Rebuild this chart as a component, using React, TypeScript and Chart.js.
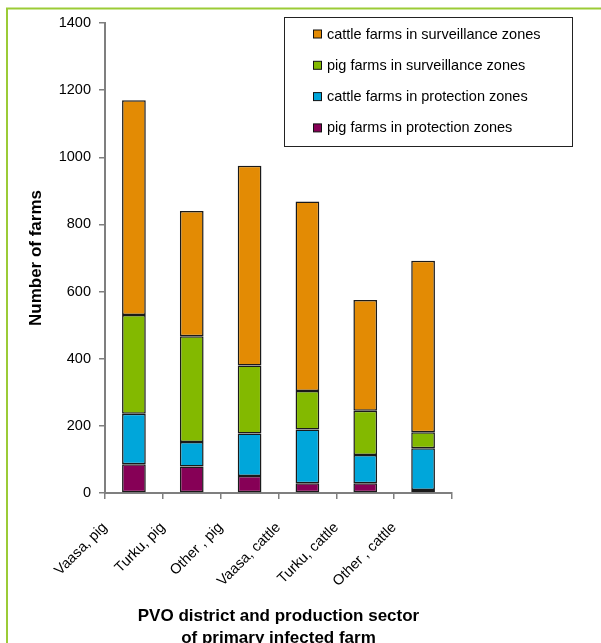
import { useEffect, useRef } from "react";
import { Chart, registerables } from "chart.js";

Chart.register(...registerables);

// Categories: PVO district and production sector of the primary infected farm
const categories = [
  "Vaasa, pig",
  "Turku, pig",
  "Other , pig",
  "Vaasa, cattle",
  "Turku, cattle",
  "Other , cattle",
];

// Number of farms per zone type (stacked from the bottom up)
const pigProtection = [86, 79, 51, 29, 29, 9];
const cattleProtection = [150, 73, 126, 160, 84, 124];
const pigSurveillance = [294, 315, 203, 115, 132, 48];
const cattleSurveillance = [640, 373, 595, 564, 330, 511];

const yMin = 0;
const yMax = 1400;
const yStep = 200;

const FONT = "'Liberation Sans', Arial, Helvetica, sans-serif";
const AXIS_GREY = "#7f7f7f";

// Light green frame around the whole chart plus a white page background
const framePlugin = {
  id: "frame",
  beforeDraw(chart: any) {
    const { ctx, width, height } = chart;
    ctx.save();
    ctx.fillStyle = "#ffffff";
    ctx.fillRect(0, 0, width, height);
    ctx.strokeStyle = "#9bcb36";
    ctx.lineWidth = 2;
    ctx.strokeRect(7, 8.5, width + 40, height + 40);
    ctx.restore();
  },
};

// Boxed legend in the upper right, listed top series first
const boxLegendPlugin = {
  id: "boxLegend",
  afterDraw(chart: any) {
    const { ctx } = chart;
    const x = 284.5;
    const y = 17.5;
    const w = 288;
    const h = 129;
    ctx.save();
    ctx.fillStyle = "#ffffff";
    ctx.fillRect(x, y, w, h);
    ctx.strokeStyle = "#222222";
    ctx.lineWidth = 1;
    ctx.strokeRect(x, y, w, h);
    const items = chart.data.datasets
      .map((ds: any) => ({ label: ds.label, color: ds.backgroundColor }))
      .reverse();
    ctx.font = `14.5px ${FONT}`;
    ctx.textBaseline = "middle";
    ctx.textAlign = "left";
    items.forEach((it: any, i: number) => {
      const cy = 34 + i * 31.3;
      ctx.fillStyle = it.color;
      ctx.fillRect(313.5, cy - 4, 8, 8);
      ctx.strokeStyle = "#111111";
      ctx.strokeRect(313.5, cy - 4, 8, 8);
      ctx.fillStyle = "#000000";
      ctx.fillText(it.label, 327, cy + 0.5);
    });
    ctx.restore();
  },
};

export default function App() {
  const canvasRef = useRef<HTMLCanvasElement | null>(null);

  useEffect(() => {
    if (!canvasRef.current) return;
    const barStyle = {
      borderColor: "#1a1a1a",
      borderWidth: 1.5,
      borderSkipped: false,
      barPercentage: 0.41,
      categoryPercentage: 1,
    };
    const chart = new Chart(canvasRef.current, {
      type: "bar",
      data: {
        labels: categories,
        datasets: [
          { label: "pig farms in protection zones", data: pigProtection, backgroundColor: "#860056", ...barStyle },
          { label: "cattle farms in protection zones", data: cattleProtection, backgroundColor: "#00a6da", ...barStyle },
          { label: "pig farms in surveillance zones", data: pigSurveillance, backgroundColor: "#83b900", ...barStyle },
          { label: "cattle farms in surveillance zones", data: cattleSurveillance, backgroundColor: "#e38b04", ...barStyle },
        ],
      },
      options: {
        animation: false,
        responsive: false,
        maintainAspectRatio: false,
        devicePixelRatio: 1,
        layout: { padding: { top: 23, right: 149, left: 0, bottom: 0 } },
        plugins: {
          legend: { display: false },
          tooltip: { enabled: false },
        },
        scales: {
          x: {
            stacked: true,
            offset: true,
            grid: {
              display: true,
              offset: true,
              drawOnChartArea: false,
              drawTicks: true,
              tickLength: 6,
              color: AXIS_GREY,
              lineWidth: 1.5,
            },
            border: { display: true, color: AXIS_GREY, width: 2 },
            ticks: {
              color: "#000000",
              font: { family: FONT, size: 14.5 },
              minRotation: 45,
              maxRotation: 45,
              autoSkip: false,
              labelOffset: -29,
              padding: 20,
            },
            title: {
              display: true,
              text: ["PVO district and production sector", "of primary infected farm"],
              color: "#000000",
              font: { family: FONT, size: 17, weight: "bold", lineHeight: 1.3 },
              padding: { top: 0, bottom: 11 },
            },
            afterFit(scale: any) {
              scale.height = 167;
            },
          },
          y: {
            stacked: true,
            min: yMin,
            max: yMax,
            grid: {
              display: true,
              drawOnChartArea: false,
              drawTicks: true,
              tickLength: 6,
              color: AXIS_GREY,
              lineWidth: 1.5,
            },
            border: { display: true, color: AXIS_GREY, width: 2 },
            ticks: {
              stepSize: yStep,
              color: "#000000",
              font: { family: FONT, size: 14.5 },
              padding: 8,
              callback: (value: any) => String(value),
            },
            title: {
              display: true,
              text: "Number of farms",
              color: "#000000",
              font: { family: FONT, size: 17, weight: "bold" },
              padding: { top: 26, bottom: 0 },
            },
            afterFit(scale: any) {
              scale.width = 105;
            },
          },
        },
      },
      plugins: [framePlugin, boxLegendPlugin],
    } as any);
    return () => chart.destroy();
  }, []);

  return (
    <div
      style={{
        position: "fixed",
        left: 0,
        top: 0,
        width: 601,
        height: 643,
        overflow: "hidden",
        background: "#ffffff",
      }}
    >
      <canvas ref={canvasRef} width={601} height={660} style={{ display: "block", width: 601, height: 660 }} />
    </div>
  );
}
